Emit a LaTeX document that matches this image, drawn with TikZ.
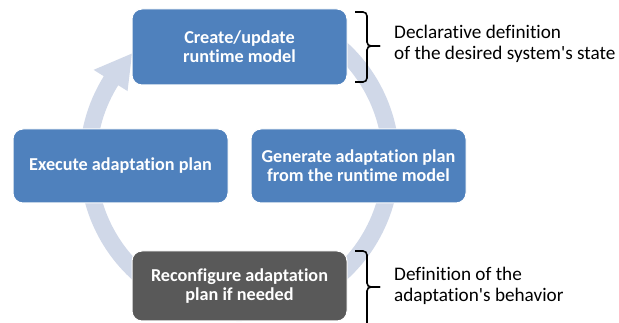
\documentclass[tikz,border=0pt]{standalone}
\usepackage{fontspec}
\setmainfont{Carlito}[Ligatures=NoCommon]
\usetikzlibrary{calc}
\definecolor{stageblue}{RGB}{79,129,189}
\definecolor{stagedark}{RGB}{89,89,89}
\definecolor{ringtint}{RGB}{208,216,232}
\tikzset{
  stage/.style={rounded corners=10pt, fill=stageblue, draw=white, line width=1pt,
    text=white, font=\fontsize{18.2}{19}\selectfont\bfseries, align=center,
    minimum width=215pt, minimum height=76pt, inner sep=0pt},
  note/.style={anchor=west, align=left, font=\fontsize{19.2}{20.5}\selectfont, inner sep=0pt},
  brace/.style={draw=black, line width=1.6pt, rounded corners=4pt}
}
\begin{document}
\begin{tikzpicture}[x=1pt,y=-1pt]
  \useasboundingbox (0,0) rectangle (619,323);
  \clip (0,0) rectangle (619,323);
  \fill[white] (0,0) rectangle (619,323);

  % cycle ring with its single arrowhead
  \coordinate (hub) at (239.5,161);
  \fill[ringtint]
    ($(hub)+(-62:160)$) arc[start angle=-62, end angle=212, radius=160]
    -- ($(hub)+(212:172)$) -- ($(hub)+(225:152)$) -- ($(hub)+(212:132)$)
    -- ($(hub)+(212:143)$) arc[start angle=212, end angle=-62, radius=143] -- cycle;

  % stages
  \node[stage] (create) at (239.5,47) {Create/update\\runtime model};
  \node[stage, minimum height=74pt] (exec) at (120.5,166) {Execute adaptation plan};
  \node[stage, minimum height=74pt] (gen) at (358.5,166) {Generate adaptation plan\\from the runtime model};
  \node[stage, fill=stagedark, minimum height=70pt] (reconf) at (239.5,286) {Reconfigure adaptation\\plan if needed};

  % braces and their notes
  \draw[brace] (355,12) -- (367,12) -- (367,46) -- (380,46);
  \draw[brace] (380,46) -- (367,46) -- (367,82) -- (355,82);
  \node[note] (declnote) at (394,44) {Declarative definition\\of the desired system\textquotesingle s state};

  \draw[brace] (355,251) -- (367,251) -- (367,287) -- (380,287);
  \draw[brace] (380,287) -- (367,287) -- (367,340);
  \node[note] (behnote) at (394,286) {Definition of the\\adaptation\textquotesingle s behavior};
\end{tikzpicture}
\end{document}
